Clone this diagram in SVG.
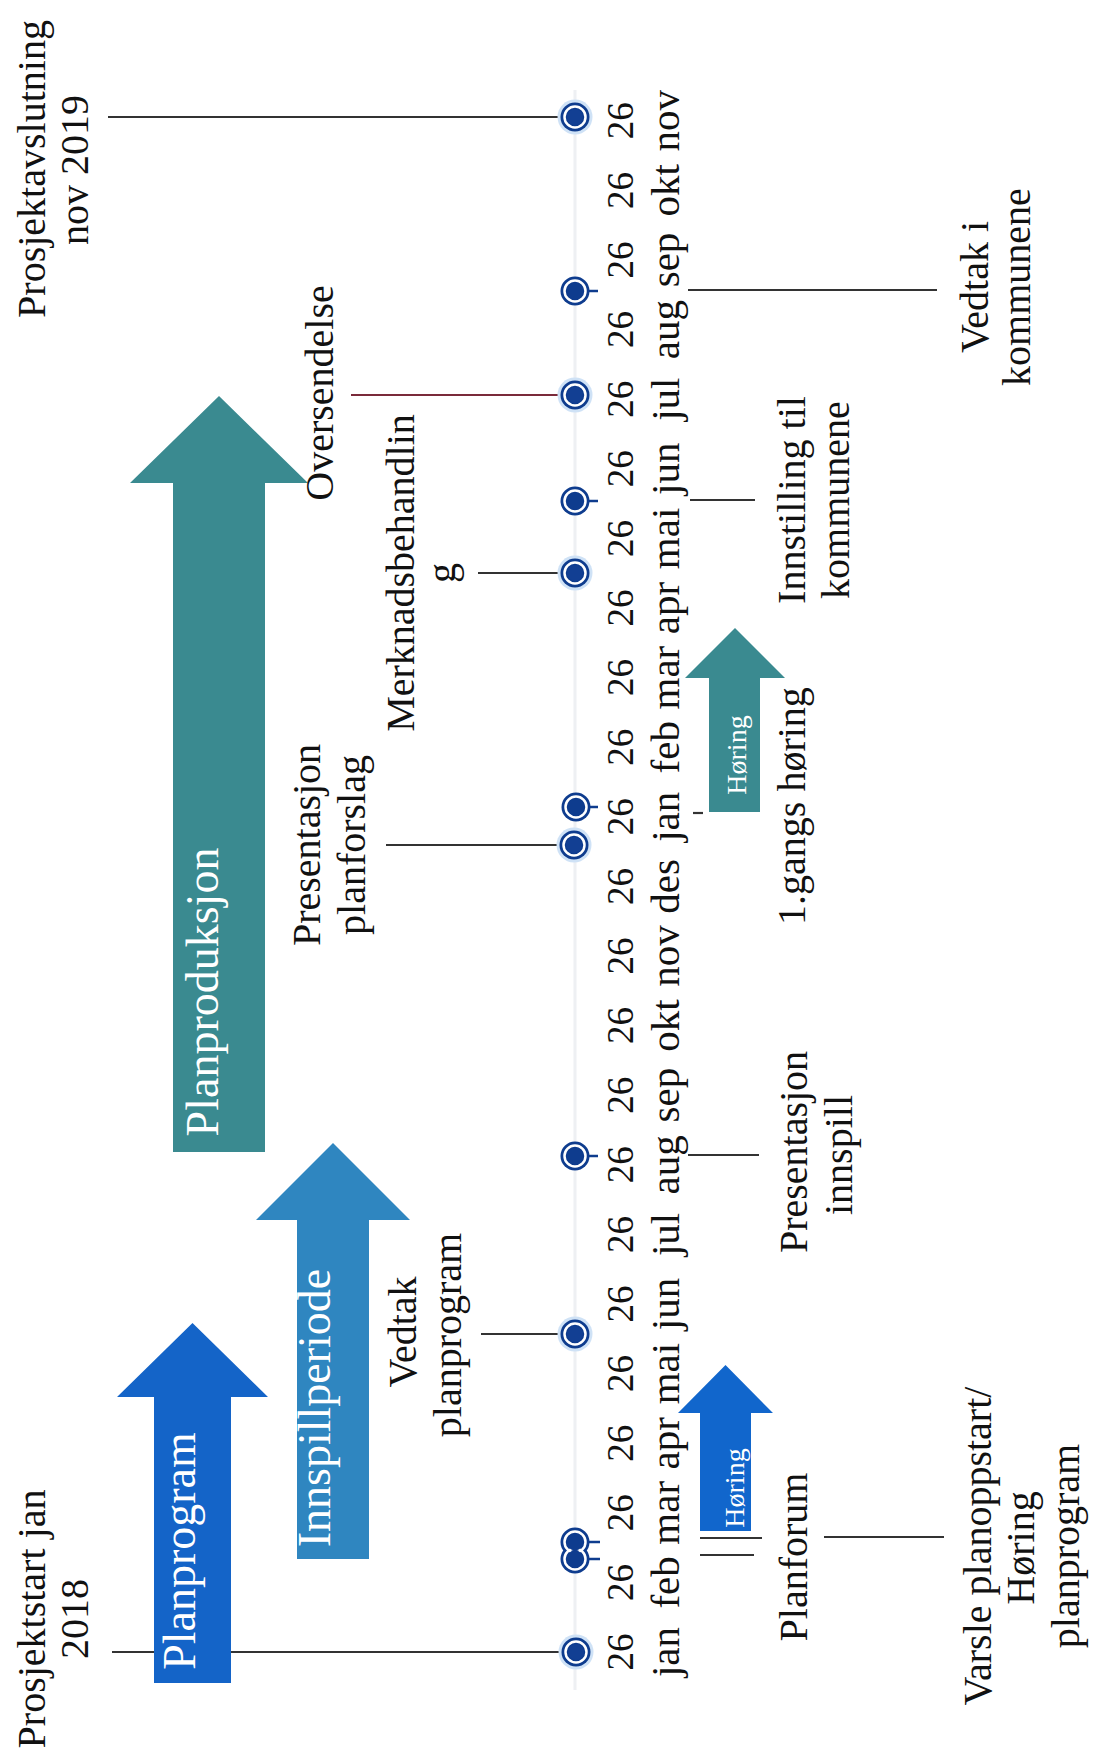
<svg xmlns="http://www.w3.org/2000/svg" width="1096" height="1762" viewBox="0 0 1096 1762">
<style>
text{font-family:"Liberation Serif","DejaVu Serif",serif;fill:#111;text-anchor:middle}
.lbl{font-size:40px}
.num{font-size:37px}
.mon{font-size:41px}
.arrt{font-size:46px;fill:#fff}
.hor{font-size:28px;fill:#fff}
.con{stroke:#333;stroke-width:2.2;fill:none}
.red{stroke:#7a2a3a}
.glow{fill:#cfe2f6}
.outer{fill:#0e3c8e}
.ring{fill:none;stroke:#fff;stroke-width:2.5}
.core{fill:#123f93}
.tick{stroke:#0e3c8e;stroke-width:2.5}
</style>
<rect width="1096" height="1762" fill="#fff"/>
<line x1="575" y1="90" x2="575" y2="1690" stroke="#eef0f3" stroke-width="3"/>

<g id="connectors">
<line class="con" x1="108" y1="117" x2="560" y2="117"/>
<line class="con red" x1="351" y1="395" x2="560" y2="395"/>
<line class="con" x1="478" y1="573" x2="560" y2="573"/>
<line class="con" x1="386" y1="845" x2="560" y2="845"/>
<line class="con" x1="481" y1="1334" x2="560" y2="1334"/>
<line class="con" x1="112" y1="1652" x2="560" y2="1652"/>
<line class="con" x1="688" y1="290" x2="937" y2="290"/>
<line class="con" x1="690" y1="500" x2="755" y2="500"/>
<line class="con" x1="688" y1="1155" x2="759" y2="1155"/>
<line class="con" x1="824" y1="1537" x2="944" y2="1537"/>
<line class="con" x1="700" y1="1538" x2="762" y2="1538"/>
<line class="con" x1="700" y1="1555" x2="754" y2="1555"/>
<line class="con" x1="693" y1="813" x2="703" y2="813"/>
</g>

<g id="arrow-planprogram">
<polygon points="154,1683 231,1683 231,1397 268,1397 192.5,1323 117,1397 154,1397" fill="#1464c8"/>
<text class="arrt" x="195" y="1551" transform="rotate(-90 195 1551)">Planprogram</text>
</g>
<g id="arrow-innspillperiode">
<polygon points="297,1559 369,1559 369,1220 410,1220 333,1143 256,1220 297,1220" fill="#2f86c0"/>
<text class="arrt" x="330" y="1408" transform="rotate(-90 330 1408)">Innspillperiode</text>
</g>
<g id="arrow-planproduksjon">
<polygon points="173,1152 265,1152 265,483 308,483 219,396 130,483 173,483" fill="#3a8a90"/>
<text class="arrt" x="218" y="992" transform="rotate(-90 218 992)">Planproduksjon</text>
</g>
<g id="arrow-horing-1">
<polygon points="700,1531 751,1531 751,1413 773,1413 725.5,1365 678,1413 700,1413" fill="#1166cc"/>
<text class="hor" x="744" y="1488" transform="rotate(-90 744 1488)">Høring</text>
</g>
<g id="arrow-horing-2">
<polygon points="709,812 760,812 760,678 785,678 735,628 685,678 709,678" fill="#3a8a90"/>
<text class="hor" x="746" y="755" transform="rotate(-90 746 755)">Høring</text>
</g>

<g id="dots">
<g id="dot-nov19"><circle class="glow" cx="575" cy="117" r="17.5"/><circle class="outer" cx="575" cy="117" r="14.5"/><circle class="ring" cx="575" cy="117" r="10.5"/><circle class="core" cx="575" cy="117" r="8"/></g>
<g id="dot-sep19"><line class="tick" x1="585" y1="291" x2="598" y2="291"/><circle class="outer" cx="575" cy="291" r="14.5"/><circle class="ring" cx="575" cy="291" r="10.5"/><circle class="outer" cx="575" cy="291" r="8.5"/></g>
<g id="dot-jul19"><circle class="glow" cx="575" cy="395" r="17.5"/><circle class="outer" cx="575" cy="395" r="14.5"/><circle class="ring" cx="575" cy="395" r="10.5"/><circle class="core" cx="575" cy="395" r="8"/></g>
<g id="dot-jun19"><line class="tick" x1="585" y1="501" x2="598" y2="501"/><circle class="outer" cx="575" cy="501" r="14.5"/><circle class="ring" cx="575" cy="501" r="10.5"/><circle class="outer" cx="575" cy="501" r="8.5"/></g>
<g id="dot-mai19"><circle class="glow" cx="575" cy="573" r="17.5"/><circle class="outer" cx="575" cy="573" r="14.5"/><circle class="ring" cx="575" cy="573" r="10.5"/><circle class="core" cx="575" cy="573" r="8"/></g>
<g id="dot-jan19"><line class="tick" x1="585" y1="807" x2="598" y2="807"/><circle class="outer" cx="576" cy="807" r="14.5"/><circle class="ring" cx="576" cy="807" r="10.5"/><circle class="outer" cx="576" cy="807" r="8.5"/></g>
<g id="dot-des18"><circle class="glow" cx="574" cy="845" r="17.5"/><circle class="outer" cx="574" cy="845" r="14.5"/><circle class="ring" cx="574" cy="845" r="10.5"/><circle class="core" cx="574" cy="845" r="8"/></g>
<g id="dot-aug18"><line class="tick" x1="585" y1="1156" x2="598" y2="1156"/><circle class="outer" cx="575" cy="1156" r="14.5"/><circle class="ring" cx="575" cy="1156" r="10.5"/><circle class="outer" cx="575" cy="1156" r="8.5"/></g>
<g id="dot-jun18"><circle class="glow" cx="575" cy="1334" r="17.5"/><circle class="outer" cx="575" cy="1334" r="14.5"/><circle class="ring" cx="575" cy="1334" r="10.5"/><circle class="core" cx="575" cy="1334" r="8"/></g>
<g id="dot-feb18"><line class="tick" x1="585" y1="1542" x2="600" y2="1542"/><line class="tick" x1="585" y1="1559" x2="600" y2="1559"/><circle class="outer" cx="575" cy="1542" r="14.5"/><circle class="outer" cx="575" cy="1559" r="14.5"/><circle class="ring" cx="575" cy="1542" r="10.5"/><circle class="ring" cx="575" cy="1559" r="10.5"/><circle class="outer" cx="575" cy="1542" r="8.5"/><circle class="outer" cx="575" cy="1559" r="8.5"/></g>
<g id="dot-jan18"><circle class="glow" cx="576" cy="1652" r="17.5"/><circle class="outer" cx="576" cy="1652" r="14.5"/><circle class="ring" cx="576" cy="1652" r="10.5"/><circle class="core" cx="576" cy="1652" r="8"/></g>
</g>

<g id="axis-days">
<text class="num" x="633" y="1652" transform="rotate(-90 633 1652)">26</text>
<text class="num" x="633" y="1582.4" transform="rotate(-90 633 1582.4)">26</text>
<text class="num" x="633" y="1512.8" transform="rotate(-90 633 1512.8)">26</text>
<text class="num" x="633" y="1443.2" transform="rotate(-90 633 1443.2)">26</text>
<text class="num" x="633" y="1373.6" transform="rotate(-90 633 1373.6)">26</text>
<text class="num" x="633" y="1304" transform="rotate(-90 633 1304)">26</text>
<text class="num" x="633" y="1234.4" transform="rotate(-90 633 1234.4)">26</text>
<text class="num" x="633" y="1164.8" transform="rotate(-90 633 1164.8)">26</text>
<text class="num" x="633" y="1095.2" transform="rotate(-90 633 1095.2)">26</text>
<text class="num" x="633" y="1025.6" transform="rotate(-90 633 1025.6)">26</text>
<text class="num" x="633" y="956" transform="rotate(-90 633 956)">26</text>
<text class="num" x="633" y="886.4" transform="rotate(-90 633 886.4)">26</text>
<text class="num" x="633" y="816.8" transform="rotate(-90 633 816.8)">26</text>
<text class="num" x="633" y="747.2" transform="rotate(-90 633 747.2)">26</text>
<text class="num" x="633" y="677.6" transform="rotate(-90 633 677.6)">26</text>
<text class="num" x="633" y="608" transform="rotate(-90 633 608)">26</text>
<text class="num" x="633" y="538.4" transform="rotate(-90 633 538.4)">26</text>
<text class="num" x="633" y="468.8" transform="rotate(-90 633 468.8)">26</text>
<text class="num" x="633" y="399.2" transform="rotate(-90 633 399.2)">26</text>
<text class="num" x="633" y="329.6" transform="rotate(-90 633 329.6)">26</text>
<text class="num" x="633" y="260" transform="rotate(-90 633 260)">26</text>
<text class="num" x="633" y="190.4" transform="rotate(-90 633 190.4)">26</text>
<text class="num" x="633" y="120.8" transform="rotate(-90 633 120.8)">26</text>
</g>

<g id="axis-months">
<text class="mon" x="679" y="1652" transform="rotate(-90 679 1652)">jan</text>
<text class="mon" x="679" y="1582.4" transform="rotate(-90 679 1582.4)">feb</text>
<text class="mon" x="679" y="1512.8" transform="rotate(-90 679 1512.8)">mar</text>
<text class="mon" x="679" y="1443.2" transform="rotate(-90 679 1443.2)">apr</text>
<text class="mon" x="679" y="1373.6" transform="rotate(-90 679 1373.6)">mai</text>
<text class="mon" x="679" y="1304" transform="rotate(-90 679 1304)">jun</text>
<text class="mon" x="679" y="1234.4" transform="rotate(-90 679 1234.4)">jul</text>
<text class="mon" x="679" y="1164.8" transform="rotate(-90 679 1164.8)">aug</text>
<text class="mon" x="679" y="1095.2" transform="rotate(-90 679 1095.2)">sep</text>
<text class="mon" x="679" y="1025.6" transform="rotate(-90 679 1025.6)">okt</text>
<text class="mon" x="679" y="956" transform="rotate(-90 679 956)">nov</text>
<text class="mon" x="679" y="886.4" transform="rotate(-90 679 886.4)">des</text>
<text class="mon" x="679" y="816.8" transform="rotate(-90 679 816.8)">jan</text>
<text class="mon" x="679" y="747.2" transform="rotate(-90 679 747.2)">feb</text>
<text class="mon" x="679" y="677.6" transform="rotate(-90 679 677.6)">mar</text>
<text class="mon" x="679" y="608" transform="rotate(-90 679 608)">apr</text>
<text class="mon" x="679" y="538.4" transform="rotate(-90 679 538.4)">mai</text>
<text class="mon" x="679" y="468.8" transform="rotate(-90 679 468.8)">jun</text>
<text class="mon" x="679" y="399.2" transform="rotate(-90 679 399.2)">jul</text>
<text class="mon" x="679" y="329.6" transform="rotate(-90 679 329.6)">aug</text>
<text class="mon" x="679" y="260" transform="rotate(-90 679 260)">sep</text>
<text class="mon" x="679" y="190.4" transform="rotate(-90 679 190.4)">okt</text>
<text class="mon" x="679" y="120.8" transform="rotate(-90 679 120.8)">nov</text>
</g>

<g id="label-prosjektavslutning">
<text class="lbl" x="45" y="169" transform="rotate(-90 45 169)">Prosjektavslutning</text>
<text class="lbl" x="88" y="170" transform="rotate(-90 88 170)">nov 2019</text>
</g>
<g id="label-oversendelse">
<text class="lbl" x="333" y="393" transform="rotate(-90 333 393)">Oversendelse</text>
</g>
<g id="label-merknadsbehandling">
<text class="lbl" x="414" y="573" transform="rotate(-90 414 573)">Merknadsbehandlin</text>
<text class="lbl" x="455" y="573" transform="rotate(-90 455 573)">g</text>
</g>
<g id="label-presentasjon-planforslag">
<text class="lbl" x="320" y="845" transform="rotate(-90 320 845)">Presentasjon</text>
<text class="lbl" x="365" y="845" transform="rotate(-90 365 845)">planforslag</text>
</g>
<g id="label-vedtak-planprogram">
<text class="lbl" x="416" y="1332" transform="rotate(-90 416 1332)">Vedtak</text>
<text class="lbl" x="461" y="1335" transform="rotate(-90 461 1335)">planprogram</text>
</g>
<g id="label-prosjektstart">
<text class="lbl" x="45" y="1619" transform="rotate(-90 45 1619)">Prosjektstart jan</text>
<text class="lbl" x="88" y="1619" transform="rotate(-90 88 1619)">2018</text>
</g>
<g id="label-vedtak-kommunene">
<text class="lbl" x="988" y="287" transform="rotate(-90 988 287)">Vedtak i</text>
<text class="lbl" x="1030" y="287" transform="rotate(-90 1030 287)">kommunene</text>
</g>
<g id="label-innstilling">
<text class="lbl" x="805" y="500" transform="rotate(-90 805 500)">Innstilling til</text>
<text class="lbl" x="849" y="500" transform="rotate(-90 849 500)">kommunene</text>
</g>
<g id="label-1gangs-horing">
<text class="lbl" x="805" y="806" transform="rotate(-90 805 806)">1.gangs høring</text>
</g>
<g id="label-presentasjon-innspill">
<text class="lbl" x="807" y="1152" transform="rotate(-90 807 1152)">Presentasjon</text>
<text class="lbl" x="852" y="1155" transform="rotate(-90 852 1155)">innspill</text>
</g>
<g id="label-planforum">
<text class="lbl" x="807" y="1557" transform="rotate(-90 807 1557)">Planforum</text>
</g>
<g id="label-varsle">
<text class="lbl" x="991" y="1546" transform="rotate(-90 991 1546)">Varsle planoppstart/</text>
<text class="lbl" x="1034" y="1548" transform="rotate(-90 1034 1548)">Høring</text>
<text class="lbl" x="1079" y="1546" transform="rotate(-90 1079 1546)">planprogram</text>
</g>
</svg>
